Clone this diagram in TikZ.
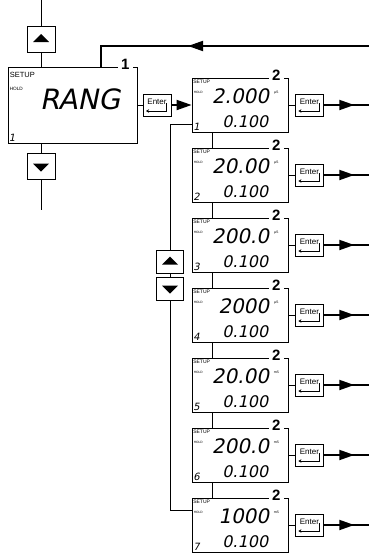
\documentclass[tikz,border=0pt]{standalone}
\usepackage{fontspec}
\setsansfont{Liberation Sans}
\newfontfamily\lcdfont{DejaVu Sans}[FakeSlant=0.2]
\usetikzlibrary{arrows.meta,decorations.markings}

\tikzset{
  screen/.style={draw, fill=white, line width=0.8pt, inner sep=0pt},
  pushkey/.style={draw, fill=white, line width=0.8pt, inner sep=0pt},
  upkey/.style={pushkey, path picture={\fill[black] ([xshift=-8pt,yshift=-3pt]path picture bounding box.center)
      -- ([xshift=8pt,yshift=-3pt]path picture bounding box.center)
      -- ([yshift=5pt]path picture bounding box.center) -- cycle;}},
  downkey/.style={pushkey, path picture={\fill[black] ([xshift=-8pt,yshift=3pt]path picture bounding box.center)
      -- ([xshift=8pt,yshift=3pt]path picture bounding box.center)
      -- ([yshift=-5pt]path picture bounding box.center) -- cycle;}},
  enterkey/.style={pushkey, minimum width=28pt, minimum height=22pt,
    font=\sffamily\fontsize{8}{8}\selectfont, text height=6pt, text depth=8pt,
    path picture={\draw[black, line width=0.6pt, -{Stealth[length=3pt,width=3.5pt]}]
      ([shift={(9.5pt,2pt)}]path picture bounding box.center) |- ([shift={(-11pt,-6pt)}]path picture bounding box.center);}},
  stepno/.style={fill=white, inner xsep=3.5pt, inner ysep=0.5pt, font=\sffamily\bfseries\fontsize{15}{15}\selectfont},
  bigsetup/.style={inner sep=0pt, font=\sffamily\fontsize{7.5}{7.5}\selectfont},
  bighold/.style={inner sep=0pt, font=\sffamily\fontsize{4.7}{4.7}\selectfont},
  smallsetup/.style={inner sep=0pt, font=\sffamily\fontsize{5}{5}\selectfont},
  smallhold/.style={inner sep=0pt, font=\sffamily\fontsize{3.2}{3.2}\selectfont},
  unitlbl/.style={inner sep=0pt, font=\sffamily\fontsize{3.5}{3.5}\selectfont},
  rangval/.style={inner sep=0pt, font=\lcdfont\fontsize{28}{28}\selectfont},
  bigval/.style={inner sep=0pt, font=\lcdfont\fontsize{20}{20}\selectfont},
  subval/.style={inner sep=0pt, font=\lcdfont\fontsize{16}{16}\selectfont},
  idx/.style={inner sep=0pt, font=\lcdfont\fontsize{10}{10}\selectfont},
  thinline/.style={line width=0.8pt},
  flow/.style={line width=1.8pt},
  midarrow/.style={postaction={decorate}, decoration={markings,
      mark=at position #1 with {\arrow{Triangle[length=15pt,width=10pt]}}}}
}

\begin{document}
\begin{tikzpicture}[x=1pt, y=-1pt]
\useasboundingbox (0,0) rectangle (369,554);
\clip (0,0) rectangle (369,554);

% step 1: range menu
\node[screen, minimum width=129pt, minimum height=76pt] (scr) at (72.5,105) {};
\node[stepno] (n0) at ([shift={(-12,-2)}]scr.north east) {1};
\node[bigsetup, anchor=north west] (set0) at ([shift={(2,5)}]scr.north west) {SETUP};
\node[bighold, anchor=west] (hold0) at ([shift={(2,22)}]scr.north west) {HOLD};
\node[rangval] (rang) at ([shift={(7.5,-6)}]scr.center) {RANG};
\node[idx, anchor=south west] (idx0) at ([shift={(1,-2)}]scr.south west) {1};

\coordinate (topend) at (41,0);
\coordinate (botend) at (41,210);
\node[upkey, minimum width=28pt, minimum height=26pt] (up0) at (41,39) {};
\node[downkey, minimum width=28pt, minimum height=26pt] (down0) at (41,166.5) {};
\draw[thinline] (topend) -- (up0.north);
\draw[thinline] (up0.south) -- (up0.south |- scr.north);
\draw[thinline] (down0.north |- scr.south) -- (down0.north);
\draw[thinline] (down0.south) -- (botend);

\node[enterkey] (ent0) at (157,105) {Enter};
\draw[thinline] (scr.east) -- (ent0.west);

% feedback from the right
\coordinate (fbin) at (369,46);
\coordinate (fbcorner) at (101,46);
\draw[flow, midarrow=181pt] (fbin) -- (fbcorner) -- (fbcorner |- scr.north);

% step 2: ranges
\foreach \i/\val/\unit in {1/2.000/µS, 2/20.00/µS, 3/200.0/µS, 4/2000/µS,
                           5/20.00/mS, 6/200.0/mS, 7/1000/mS} {
  \node[screen, minimum width=96pt, minimum height=54pt] (box\i) at (240,{105+70*(\i-1)}) {};
  \node[stepno] (n\i) at ([shift={(-12,-2)}]box\i.north east) {2};
  \node[smallsetup, anchor=north west] (set\i) at ([shift={(1.5,2)}]box\i.north west) {SETUP};
  \node[smallhold, anchor=west] (hold\i) at ([shift={(2,15)}]box\i.north west) {HOLD};
  \node[bigval, anchor=east] (val\i) at ([shift={(-19,19)}]box\i.north east) {\val};
  \node[unitlbl] (u\i) at ([shift={(-12,15)}]box\i.north east) {\unit};
  \node[subval, anchor=east] (sub\i) at ([shift={(-20,44.5)}]box\i.north east) {0.100};
  \node[idx, anchor=south west] (idx\i) at ([shift={(1.5,-2)}]box\i.south west) {\i};
  \node[enterkey] (ent\i) at ([shift={(21,0)}]box\i.east) {Enter};
  \coordinate (out\i) at (369,{105+70*(\i-1)});
  \draw[thinline] (box\i.east) -- (ent\i.west);
  \draw[flow, midarrow=30.5pt] (ent\i.east) -- (out\i);
}
\foreach \i [evaluate=\i as \j using int(\i+1)] in {1,...,6}
  \draw[thinline] ([xshift=21pt]box\i.south west) -- ([xshift=21pt]box\j.north west);

\draw[flow, -{Triangle[length=15pt,width=10pt]}] (ent0.east) -- (box1.west);

% scroll bracket
\coordinate (brtop) at (170,124);
\coordinate (brbot) at (170,510);
\draw[thinline] (box1.west |- brtop) -- (brtop) -- (brbot) -- (box7.west |- brbot);
\node[upkey, minimum width=27pt, minimum height=23pt] (up1) at (170,261.5) {};
\node[downkey, minimum width=27pt, minimum height=23pt] (down1) at (170,288.5) {};
\end{tikzpicture}
\end{document}
